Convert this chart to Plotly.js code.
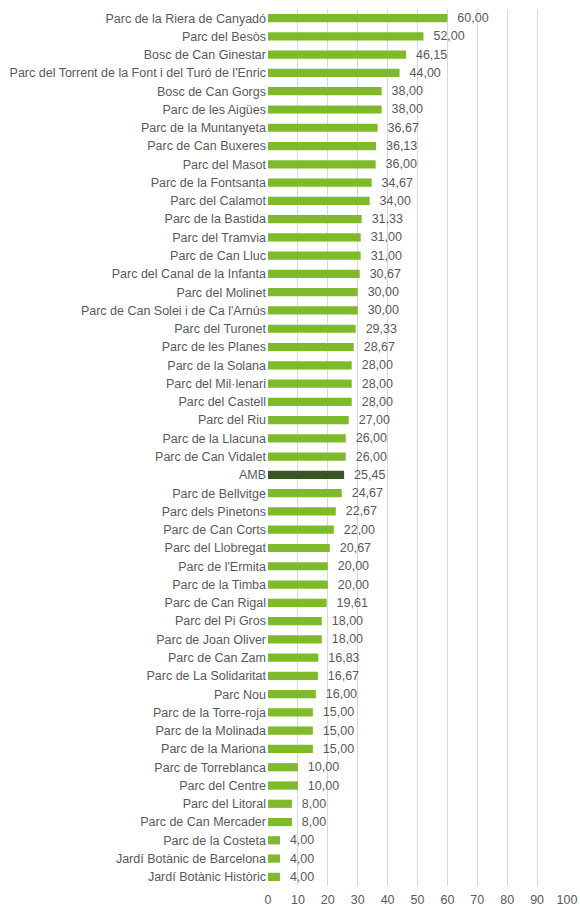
<!DOCTYPE html>
<html><head><meta charset="utf-8">
<script src="https://cdn.plot.ly/plotly-3.0.1.min.js"></script>
<style>html,body{margin:0;padding:0;background:#fff}#chart{width:580px;height:906px}</style>
</head><body><div id="chart"></div>
<script>
const categories = [
"Parc de la Riera de Canyadó","Parc del Besòs","Bosc de Can Ginestar",
"Parc del Torrent de la Font i del Turó de l'Enric","Bosc de Can Gorgs","Parc de les Aigües",
"Parc de la Muntanyeta","Parc de Can Buxeres","Parc del Masot","Parc de la Fontsanta",
"Parc del Calamot","Parc de la Bastida","Parc del Tramvia","Parc de Can Lluc",
"Parc del Canal de la Infanta","Parc del Molinet","Parc de Can Solei i de Ca l'Arnús",
"Parc del Turonet","Parc de les Planes","Parc de la Solana","Parc del Mil·lenari",
"Parc del Castell","Parc del Riu","Parc de la Llacuna","Parc de Can Vidalet","AMB",
"Parc de Bellvitge","Parc dels Pinetons","Parc de Can Corts","Parc del Llobregat",
"Parc de l'Ermita","Parc de la Timba","Parc de Can Rigal","Parc del Pi Gros",
"Parc de Joan Oliver","Parc de Can Zam","Parc de La Solidaritat","Parc Nou",
"Parc de la Torre-roja","Parc de la Molinada","Parc de la Mariona","Parc de Torreblanca",
"Parc del Centre","Parc del Litoral","Parc de Can Mercader","Parc de la Costeta",
"Jardí Botànic de Barcelona","Jardí Botànic Històric"];
const values = [60,52,46.15,44,38,38,36.67,36.13,36,34.67,34,31.33,31,31,30.67,30,30,29.33,28.67,28,28,28,27,26,26,25.45,24.67,22.67,22,20.67,20,20,19.61,18,18,16.83,16.67,16,15,15,15,10,10,8,8,4,4,4];
const highlight = "AMB";
const xTicks = [0,10,20,30,40,50,60,70,80,90,100];

const colors = categories.map(c => c === highlight ? "#375623" : "#7fba2a");
const labels = values.map(v => "\u00a0\u00a0" + v.toFixed(2).replace(".", ","));
const font = "Liberation Sans, Arial, sans-serif";
const fs = 12.5;

Plotly.newPlot("chart", [{
  type: "bar", orientation: "h",
  x: values, y: categories,
  marker: {color: colors},
  text: labels, textposition: "outside", constraintext: "none", cliponaxis: false,
  textfont: {family: font, size: fs, color: "#595959"},
  hoverinfo: "none"
}], {
  width: 580, height: 906,
  margin: {l: 268, r: 13, t: 9, b: 20},
  paper_bgcolor: "#fff", plot_bgcolor: "#fff",
  bargap: 0.55,
  showlegend: false,
  font: {family: font, size: fs, color: "#595959"},
  xaxis: {range: [0, 100], tickvals: xTicks, ticktext: xTicks.map(String),
    showgrid: true, gridcolor: "#d9d9d9", gridwidth: 1, zeroline: false,
    showline: false, ticks: "", ticklabelstandoff: 4, tickfont: {family: font, size: fs, color: "#595959"}, fixedrange: true},
  yaxis: {autorange: "reversed", type: "category", ticks: "", showgrid: false, zeroline: false,
    showline: false, ticklabelstandoff: 1, tickfont: {family: font, size: fs, color: "#595959"}, automargin: false}
}, {displayModeBar: false, staticPlot: true});
</script></body></html>
